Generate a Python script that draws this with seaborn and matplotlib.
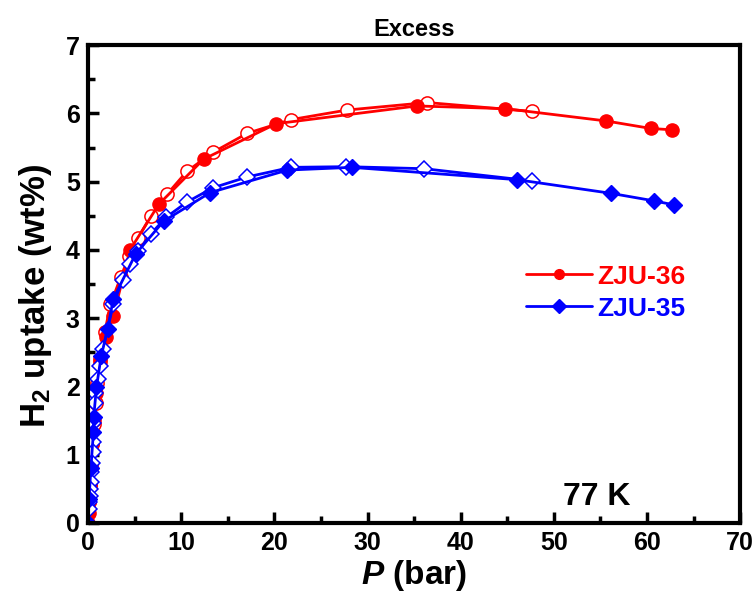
import matplotlib
matplotlib.use("Agg")
import matplotlib.pyplot as plt
from matplotlib.lines import Line2D
from matplotlib.ticker import MultipleLocator
import seaborn as sns
import pandas as pd

sns.set_theme(style="white")
plt.rcParams['font.family'] = ['Liberation Sans', 'DejaVu Sans']
plt.rcParams['mathtext.fontset'] = 'custom'
plt.rcParams['mathtext.rm'] = 'Liberation Sans:bold'
plt.rcParams['mathtext.it'] = 'Liberation Sans:bold:italic'
plt.rcParams['mathtext.bf'] = 'Liberation Sans:bold'
plt.rcParams['text.color'] = 'black'
plt.rcParams['axes.labelcolor'] = 'black'
plt.rcParams['xtick.color'] = 'black'
plt.rcParams['ytick.color'] = 'black'

# ZJU-36 adsorption (filled circles)
p36_ads = [0.0, 0.05, 0.1, 0.2, 0.3, 0.45, 0.65, 0.9, 1.3, 1.9, 2.7, 4.5, 7.6, 12.4, 20.2, 35.3, 44.8, 55.6, 60.4, 62.7]
u36_ads = [0.0, 0.15, 0.3, 0.55, 0.8, 1.15, 1.5, 1.9, 2.35, 2.72, 3.03, 4.0, 4.67, 5.33, 5.85, 6.11, 6.07, 5.89, 5.78, 5.76]
# ZJU-36 desorption (open circles)
p36_des = [47.6, 36.4, 27.8, 21.8, 17.1, 13.4, 10.6, 8.5, 6.7, 5.4, 4.4, 3.5, 2.4, 1.8, 1.3, 1.0, 0.8, 0.6, 0.45, 0.3, 0.2, 0.1]
u36_des = [6.03, 6.16, 6.05, 5.91, 5.71, 5.43, 5.15, 4.82, 4.49, 4.18, 3.91, 3.6, 3.2, 2.8, 2.4, 2.05, 1.75, 1.45, 1.15, 0.85, 0.55, 0.3]

# ZJU-35 adsorption (filled diamonds)
p35_ads = [0.0, 0.1, 0.3, 0.57, 0.6, 0.9, 1.4, 2.1, 2.7, 5.1, 8.1, 13.1, 21.4, 28.3, 46.0, 56.1, 60.7, 62.9]
u35_ads = [0.0, 0.35, 0.8, 1.33, 1.55, 1.99, 2.44, 2.84, 3.28, 3.94, 4.42, 4.84, 5.17, 5.21, 5.03, 4.83, 4.72, 4.66]
# ZJU-35 desorption (open diamonds)
p35_des = [47.7, 36.1, 27.7, 21.8, 17.1, 13.4, 10.6, 8.4, 6.7, 5.4, 4.5, 3.7, 2.7, 1.6, 1.3, 1.1, 0.75, 0.75, 0.57, 0.5, 0.5, 0.4, 0.35, 0.3, 0.25, 0.2, 0.15, 0.1]
u35_des = [5.01, 5.19, 5.22, 5.21, 5.07, 4.91, 4.70, 4.48, 4.23, 3.98, 3.79, 3.56, 3.2, 2.55, 2.30, 2.11, 1.90, 1.75, 1.46, 1.19, 1.04, 0.87, 0.75, 0.6, 0.5, 0.4, 0.3, 0.2]

labels = ["ZJU-36", "ZJU-35"]
red = "#ff0000"
blue = "#0000ff"

fig = plt.figure(figsize=(7.53, 6.03), dpi=100)
ax = fig.add_axes([0.117, 0.133, 0.866, 0.792])

def draw(px, py, color, marker, ms, filled):
    df = pd.DataFrame({"P": px, "U": py})
    sns.lineplot(data=df, x="P", y="U", ax=ax, sort=False, estimator=None,
                 color=color, lw=2.0, marker=marker, markersize=ms,
                 markerfacecolor=(color if filled else "white"),
                 markeredgecolor=color, markeredgewidth=(1.0 if filled else 1.1),
                 legend=False)

draw(p36_des, u36_des, red, "o", 9.5, False)
draw(p36_ads, u36_ads, red, "o", 9.5, True)
draw(p35_des, u35_des, blue, "D", 8.0, False)
draw(p35_ads, u35_ads, blue, "D", 8.0, True)

ax.set_xlim(0, 70)
ax.set_ylim(0, 7)
ax.xaxis.set_major_locator(MultipleLocator(10))
ax.xaxis.set_minor_locator(MultipleLocator(5))
ax.yaxis.set_major_locator(MultipleLocator(1))
ax.yaxis.set_minor_locator(MultipleLocator(0.5))
ax.tick_params(which="both", direction="in", width=2.5, colors="black",
               top=False, right=False, left=True, bottom=True)
ax.tick_params(which="major", length=8, labelsize=18, pad=6)
ax.tick_params(which="minor", length=5)
for lab in ax.get_xticklabels() + ax.get_yticklabels():
    lab.set_fontweight("bold")
for sp in ax.spines.values():
    sp.set_linewidth(3)
    sp.set_color("black")

ax.set_xlabel(r"$\it{P}$ (bar)", fontsize=24, fontweight="bold", labelpad=2)
ax.set_ylabel(r"H$_2$ uptake (wt%)", fontsize=25, fontweight="bold")
ax.yaxis.set_label_coords(-0.052, 0.475)
ax.set_title("Excess", fontsize=17, fontweight="bold", pad=7, color="black")
ax.text(54.6, 0.38, "77 K", fontsize=23, fontweight="bold", ha="center", va="center")

handles = [Line2D([], [], color=red, lw=2, marker="o", markersize=7, markerfacecolor=red),
           Line2D([], [], color=blue, lw=2, marker="D", markersize=7, markerfacecolor=blue)]
leg = ax.legend(handles, labels, loc="center left", bbox_to_anchor=(0.635, 0.482),
                frameon=False, handlelength=2.5, handletextpad=0.2,
                labelspacing=0.3, prop={"weight": "bold", "size": 19})
for txt, c in zip(leg.get_texts(), [red, blue]):
    txt.set_color(c)

fig.savefig("out.png", dpi=100, facecolor="white")
